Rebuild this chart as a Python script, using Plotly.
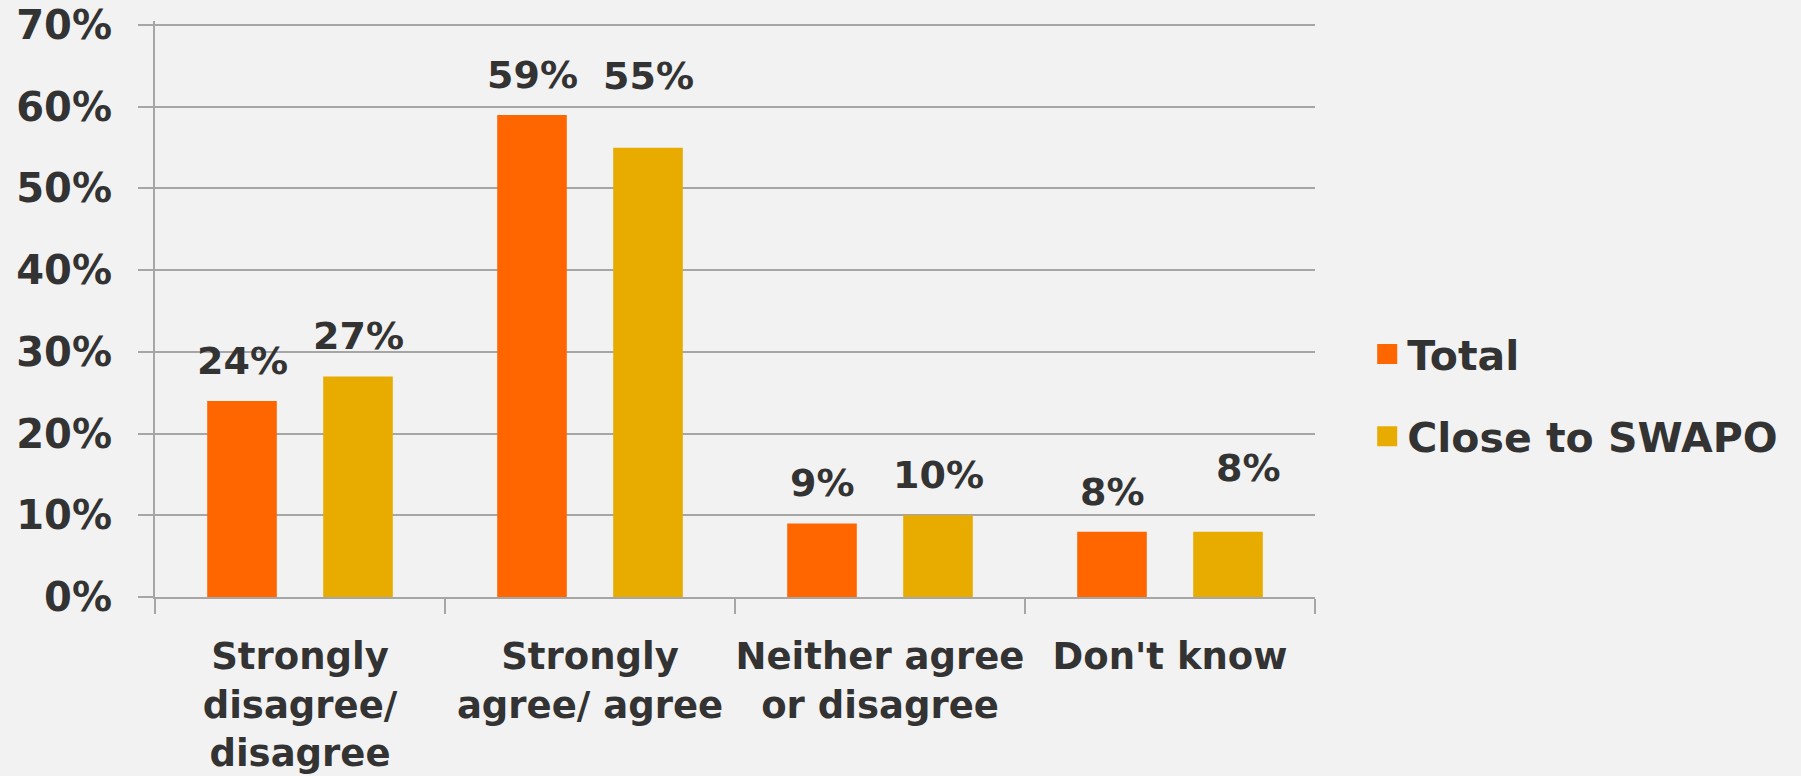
import plotly.graph_objects as go

categories = ["Strongly<br>disagree/<br>disagree", "Strongly<br>agree/ agree",
              "Neither agree<br>or disagree", "Don't know"]
series_names = ["Total", "Close to SWAPO"]
total = [24, 59, 9, 8]
close_swapo = [27, 55, 10, 8]
y_ticks = [0, 10, 20, 30, 40, 50, 60, 70]
y_tick_labels = [f"{v}%" for v in y_ticks]

# ---- style ----
colors = ["#FF6600", "#E8AC00"]
FONT = "DejaVu Sans"
TXT = "#333333"
GRID = "#A6A6A6"
BG = "#F2F2F2"
W, H = 1801, 776
ML, MR, MT, MB = 155, 486, 21, 179
BARGAP, BARGROUPGAP = 0.2, 0.4
# extra vertical nudge (px) for some value labels, as in the reference
label_extra = {(1, 1): 32, (1, 3): 24}
label_xnudge = {(1, 3): 20}

fig = go.Figure()
series = [total, close_swapo]
for name, vals, col, grp in zip(series_names, series, colors, ["a", "b"]):
    fig.add_trace(go.Bar(
        x=categories, y=vals, name=name, marker=dict(color=col, line=dict(width=0)),
        legendgroup=grp, showlegend=False,
    ))
    # legend proxy with a larger square swatch
    fig.add_trace(go.Scatter(
        x=[None], y=[None], mode="markers", name=name, legendgroup=grp,
        marker=dict(symbol="square", size=16, color=col, line=dict(color=col, width=4)),
    ))

cat_px = (W - ML - MR) / len(categories)
slot = cat_px * (1 - BARGAP) / len(series)
annotations = []
for si, vals in enumerate(series):
    xs = (si - (len(series) - 1) / 2) * slot
    for ci, v in enumerate(vals):
        annotations.append(dict(
            x=categories[ci], y=v, xref="x", yref="y", text=f"{v}%", showarrow=False,
            xanchor="center", yanchor="bottom",
            xshift=xs + label_xnudge.get((si, ci), 0),
            yshift=16 + label_extra.get((si, ci), 0),
            font=dict(family=FONT, size=38, color=TXT, weight="bold"),
        ))

fig.update_layout(
    width=W, height=H,
    margin=dict(l=ML, r=MR, t=MT, b=MB, autoexpand=False),
    paper_bgcolor=BG, plot_bgcolor=BG,
    barmode="group", bargap=BARGAP, bargroupgap=BARGROUPGAP,
    font=dict(family=FONT, size=38, color=TXT, weight="bold"),
    showlegend=True,
    legend=dict(x=1.045, y=0.35, xanchor="left", yanchor="middle",
                font=dict(family=FONT, size=41, color=TXT, weight="bold"),
                tracegroupgap=26, bgcolor="rgba(0,0,0,0)"),
    annotations=annotations,
)
fig.update_xaxes(
    showline=True, linecolor=GRID, linewidth=2, automargin=False, tickangle=0,
    ticks="outside", tickson="boundaries", ticklen=15, tickcolor=GRID, tickwidth=2,
    tickfont=dict(family=FONT, size=37, color=TXT, weight="bold"),
    ticklabelstandoff=26, showgrid=False,
)
fig.update_yaxes(
    range=[0, 70.5], tickvals=y_ticks, ticktext=y_tick_labels, automargin=False,
    showline=True, linecolor=GRID, linewidth=2,
    ticks="outside", ticklen=15, tickcolor=GRID, tickwidth=2,
    showgrid=True, gridcolor=GRID, gridwidth=2, zeroline=False,
    tickfont=dict(family=FONT, size=40, color=TXT, weight="bold"),
    ticklabelstandoff=18,
)

fig.write_html("out.html")
